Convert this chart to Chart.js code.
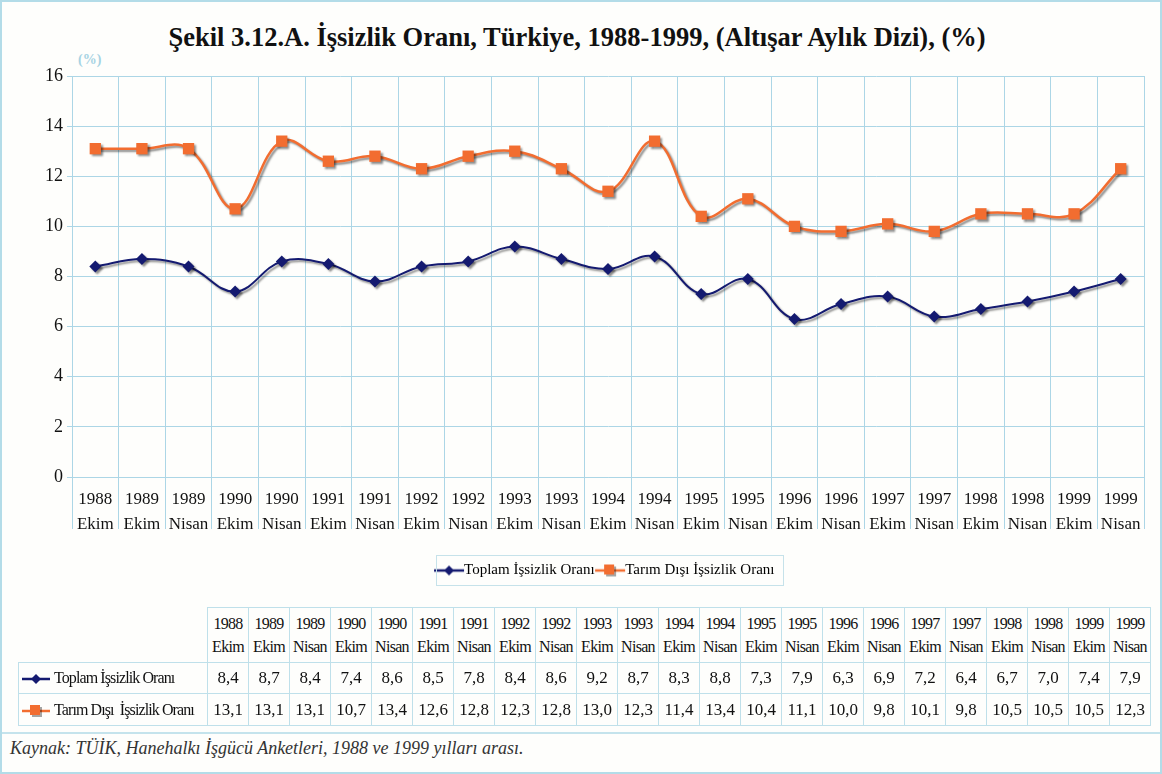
<!DOCTYPE html>
<html>
<head>
<meta charset="utf-8">
<script src="https://cdn.jsdelivr.net/npm/chart.js@4.4.1/dist/chart.umd.min.js"></script>
<style>
  html, body { margin: 0; padding: 0; background: #fff; }
  #frame {
    position: relative; width: 1162px; height: 774px; box-sizing: border-box;
    border: 2px solid #b3dce8; background: #fefefc; overflow: hidden;
    font-family: "Liberation Serif", "Times New Roman", serif;
  }
  #title {
    position: absolute; left: 0; top: 20px; width: 1150px; text-align: center;
    font-weight: bold; font-size: 26.5px; line-height: 30px; color: #111;
  }
  #unit { position: absolute; left: 76px; top: 50px; font-size: 14px; font-weight: bold; color: #a6d3e3; }
  #chartBox { position: absolute; left: -2px; top: 48px; width: 1162px; height: 550px; }
  #tbl {
    position: absolute; left: 16px; top: 605px; border-collapse: collapse;
    table-layout: fixed; color: #111;
  }
  #tbl td { border: 1px solid #bfe0ea; padding: 0; text-align: center; }
  #tbl tr.hd td { height: 54px; font-size: 16px; line-height: 23px; letter-spacing: -0.7px; vertical-align: middle; }
  #tbl tr.hd td.blank { border: none; }
  #tbl tr.r1 td { height: 30px; font-size: 17px; }
  #tbl tr.r2 td { height: 31px; font-size: 17px; }
  #tbl td.lab { text-align: left; font-size: 16px !important; letter-spacing: -0.9px; white-space: nowrap; }
  .ic { display: inline-block; width: 30px; height: 14px; vertical-align: middle; margin: 0 3px 0 2px; }
  #sep { position: absolute; left: 0; top: 730px; width: 1162px; height: 0; border-top: 2px solid #c4e3ec; }
  #src {
    position: absolute; left: 8px; top: 736px; font-style: italic; font-size: 18px; color: #333;
  }
</style>
</head>
<body>
<div id="frame">
  <div id="title">Şekil 3.12.A. İşsizlik Oranı, Türkiye, 1988-1999, (Altışar Aylık Dizi), (%)</div>
  <div id="unit">(%)</div>
  <div id="chartBox"><canvas id="chart" width="1162" height="550"></canvas></div>
  <table id="tbl"></table>
  <div id="sep"></div>
  <div id="src">Kaynak: TÜİK, Hanehalkı İşgücü Anketleri, 1988 ve 1999 yılları arası.</div>
</div>
<script>
const years = ["1988", "1989", "1989", "1990", "1990", "1991", "1991", "1992", "1992", "1993", "1993", "1994",
  "1994", "1995", "1995", "1996", "1996", "1997", "1997", "1998", "1998", "1999", "1999"];
const months = ["Ekim", "Ekim", "Nisan", "Ekim", "Nisan", "Ekim", "Nisan", "Ekim", "Nisan", "Ekim", "Nisan", "Ekim",
  "Nisan", "Ekim", "Nisan", "Ekim", "Nisan", "Ekim", "Nisan", "Ekim", "Nisan", "Ekim", "Nisan"];
const toplam = [8.4, 8.7, 8.4, 7.4, 8.6, 8.5, 7.8, 8.4, 8.6, 9.2, 8.7, 8.3, 8.8, 7.3, 7.9, 6.3, 6.9, 7.2, 6.4, 6.7, 7.0, 7.4, 7.9];
const tarimDisi = [13.1, 13.1, 13.1, 10.7, 13.4, 12.6, 12.8, 12.3, 12.8, 13.0, 12.3, 11.4, 13.4, 10.4, 11.1, 10.0, 9.8, 10.1, 9.8, 10.5, 10.5, 10.5, 12.3];
const seriesNames = ["Toplam İşsizlik Oranı", "Tarım Dışı İşsizlik Oranı"];

const navy = "#141a70";
const orange = "#f26d30";
const gridColor = "#acd6e6";

// legend icon: short line with the marker on it
function makeIcon(color, shape, w) {
  const c = document.createElement("canvas");
  c.width = w; c.height = 14;
  const g = c.getContext("2d");
  const m = w / 2;
  g.strokeStyle = color; g.lineWidth = 2.5;
  g.beginPath(); g.moveTo(1, 7); g.lineTo(w - 1, 7); g.stroke();
  g.fillStyle = color;
  if (shape === "diamond") {
    g.beginPath(); g.moveTo(m, 2); g.lineTo(m + 5, 7); g.lineTo(m, 12); g.lineTo(m - 5, 7); g.closePath(); g.fill();
  } else {
    g.fillStyle = "rgba(0,0,0,0.35)"; g.fillRect(m - 4, 3, 10, 10);
    g.fillStyle = color; g.fillRect(m - 6, 1, 10, 10);
  }
  return c;
}
const iconNavy = makeIcon(navy, "diamond", 32);
const iconOrange = makeIcon(orange, "square", 32);

const labels = years.map((y, i) => [y, months[i]]);

const shadowPlugin = {
  id: "shadow",
  beforeDatasetsDraw(chart) {
    const ctx = chart.ctx;
    ctx.save();
    ctx.shadowColor = "rgba(0,0,0,0.45)";
    ctx.shadowOffsetX = 2;
    ctx.shadowOffsetY = 2;
    ctx.shadowBlur = 2;
  },
  afterDatasetsDraw(chart) {
    chart.ctx.restore();
  }
};

const legendBorder = {
  id: "legendBorder",
  afterDraw(chart) {
    const boxes = chart.legend.legendHitBoxes;
    if (!boxes || !boxes.length) return;
    let l = Infinity, r = -Infinity, t = Infinity, b = -Infinity;
    boxes.forEach(h => {
      l = Math.min(l, h.left); r = Math.max(r, h.left + h.width);
      t = Math.min(t, h.top); b = Math.max(b, h.top + h.height);
    });
    const ctx = chart.ctx;
    ctx.save();
    ctx.strokeStyle = "#c6e2ea";
    ctx.lineWidth = 1;
    ctx.strokeRect(Math.round(l - 6) + 0.5, Math.round(t - 8) + 0.5, Math.round(r - l + 14), Math.round(b - t + 15));
    ctx.restore();
  }
};

new Chart(document.getElementById("chart"), {
  type: "line",
  data: {
    labels: labels,
    datasets: [
      {
        label: seriesNames[0],
        data: toplam,
        borderColor: navy,
        backgroundColor: navy,
        borderWidth: 2,
        pointStyle: "rectRot",
        pointRadius: 6,
        pointBorderWidth: 0,
        tension: 0.4
      },
      {
        label: seriesNames[1],
        data: tarimDisi,
        borderColor: orange,
        backgroundColor: orange,
        borderWidth: 2.5,
        pointStyle: "rect",
        pointRadius: 8,
        pointBorderWidth: 0,
        tension: 0.4
      }
    ]
  },
  options: {
    responsive: false,
    animation: false,
    devicePixelRatio: 1,
    layout: { padding: { top: 26, right: 18, bottom: 12, left: 0 } },
    plugins: {
      title: { display: false },
      tooltip: { enabled: false },
      legend: {
        position: "bottom",
        fullSize: false,
        labels: {
          font: { family: "Liberation Serif", size: 15 },
          color: "#111",
          padding: 8,
          usePointStyle: true,
          generateLabels(chart) {
            return chart.data.datasets.map((ds, i) => ({
              text: ds.label,
              pointStyle: i === 0 ? iconNavy : iconOrange,
              fillStyle: ds.borderColor,
              strokeStyle: ds.borderColor,
              lineWidth: 0,
              datasetIndex: i,
              hidden: false
            }));
          }
        }
      }
    },
    scales: {
      x: {
        offset: true,
        grid: { offset: true, color: gridColor, lineWidth: 1, tickLength: 52, drawTicks: true },
        border: { color: gridColor },
        ticks: {
          color: "#111",
          font: { family: "Liberation Serif", size: 17, lineHeight: "25px" },
          padding: -42,
          maxRotation: 0,
          autoSkip: false
        },
        afterFit(scale) { scale.height = 78; }
      },
      y: {
        min: 0,
        max: 16,
        grid: { color: gridColor, lineWidth: 1, tickLength: 5 },
        border: { color: gridColor },
        ticks: {
          stepSize: 2,
          color: "#111",
          padding: 4,
          font: { family: "Liberation Serif", size: 18 }
        },
        afterFit(scale) { scale.width = 72; }
      }
    }
  },
  plugins: [shadowPlugin, legendBorder]
});

// data table under the chart
function fmt(v) { return v.toFixed(1).replace(".", ","); }
const tbl = document.getElementById("tbl");
let html = '<colgroup><col style="width:189px">';
years.forEach(() => { html += '<col style="width:41px">'; });
html += "</colgroup>";
html += '<tr class="hd"><td class="blank"></td>' + years.map((y, i) => "<td>" + y + "<br>" + months[i] + "</td>").join("") + "</tr>";
html += '<tr class="r1"><td class="lab"><span class="ic" id="ic1"></span>' + seriesNames[0] + "</td>" +
  toplam.map(v => "<td>" + fmt(v) + "</td>").join("") + "</tr>";
html += '<tr class="r2"><td class="lab"><span class="ic" id="ic2"></span>Tarım Dışı&nbsp; İşsizlik Oranı</td>' +
  tarimDisi.map(v => "<td>" + fmt(v) + "</td>").join("") + "</tr>";
tbl.innerHTML = html;
document.getElementById("ic1").appendChild(makeIcon(navy, "diamond", 30));
document.getElementById("ic2").appendChild(makeIcon(orange, "square", 30));
</script>
</body>
</html>
